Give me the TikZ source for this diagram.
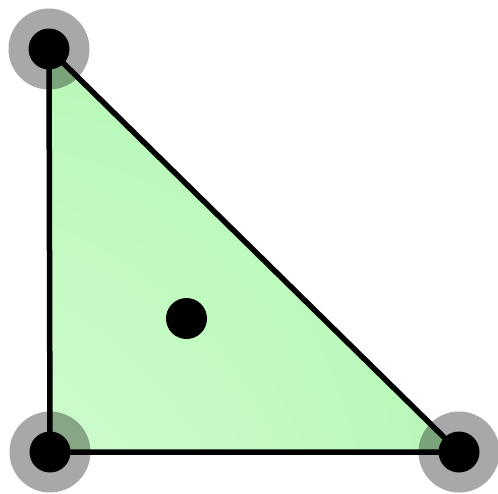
\documentclass[tikz,border=0pt]{standalone}
\usetikzlibrary{calc,shadings}
\definecolor{tri}{RGB}{184,248,184}
\definecolor{trilight}{RGB}{206,252,206}
\tikzset{
  halo/.style={fill=black, fill opacity=0.34, draw=none},
  vdot/.style={fill=black, draw=none},
  edge/.style={draw=black, line width=5.5pt, line join=round},
}
\begin{document}
\begin{tikzpicture}[x=1pt,y=-1pt]
\useasboundingbox (0,0) rectangle (498,493);
\coordinate (A) at (49,49);
\coordinate (B) at (50,452);
\coordinate (C) at (459,452);
\coordinate (M) at (186.5,318.5);
\begin{scope}
\clip (A) -- (B) -- (C) -- cycle;
\shade[lower left=trilight, upper right=tri, lower right=tri, upper left=tri] (A) rectangle (C);
\end{scope}
\foreach \p in {A,B,C} \fill[halo] (\p) circle (40.5);
\draw[edge] (A) -- (B) -- (C) -- cycle;
\foreach \p in {A,B,C} \fill[vdot] (\p) circle (20.5);
\fill[vdot] (M) circle (20.5);
\end{tikzpicture}
\end{document}
